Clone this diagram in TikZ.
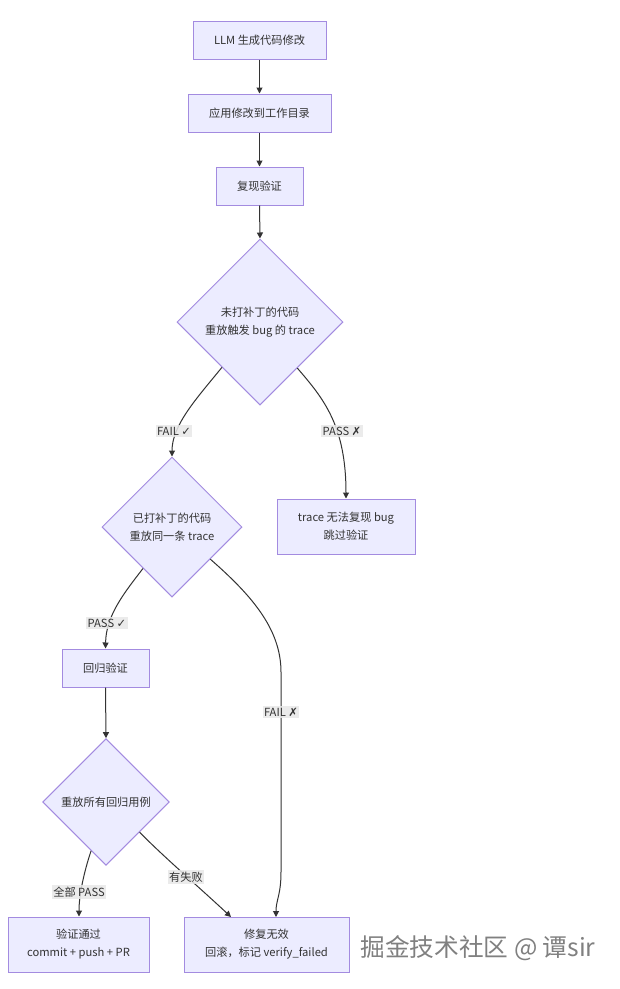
\documentclass[tikz,border=0pt]{standalone}
\usepackage{fontspec}
\setmainfont{Noto Sans CJK SC}
\newfontfamily\symf{DejaVu Sans}
\usetikzlibrary{shapes.geometric,arrows.meta}
\definecolor{nodefill}{HTML}{ECECFF}
\definecolor{nodeline}{HTML}{A38BE0}
\definecolor{edgecol}{HTML}{333333}
\definecolor{lblbg}{HTML}{E8E8E8}
\definecolor{txt}{HTML}{333333}
\definecolor{wmark}{HTML}{808080}
\newcommand{\ok}{{\symf\fontsize{8.6}{9}\selectfont ✓}}
\newcommand{\no}{{\symf\fontsize{8.6}{9}\selectfont ✗}}
\begin{document}
\begin{tikzpicture}[x=0.75pt,y=-0.75pt,
  nfont/.style={font=\fontsize{8.4}{13.5}\selectfont},
  box/.style={draw=nodeline, fill=nodefill, line width=0.75pt, rectangle, align=center, inner sep=0pt, text=txt, nfont},
  dia/.style={draw=nodeline, fill=nodefill, line width=0.75pt, diamond, aspect=1, align=center, inner sep=0pt, text=txt, nfont},
  conn/.style={draw=edgecol, line width=0.75pt, -{Triangle[length=4.5pt,width=4.5pt]}},
  lbl/.style={fill=lblbg, fill opacity=0.85, text opacity=1, text=txt, inner xsep=1pt, inner ysep=1.5pt, nfont}]
\useasboundingbox[fill=white] (0,0) rectangle (620,989);

% nodes
\node[box, minimum width=99.75pt, minimum height=28.5pt] (b1) at (259.5,40) {LLM 生成代码修改};
\node[box, minimum width=107.25pt, minimum height=28.5pt] (b2) at (259.5,113) {应用修改到工作目录};
\node[box, minimum width=65.25pt, minimum height=28.5pt] (b3) at (259.5,186) {复现验证};
\node[dia, minimum width=124.5pt, minimum height=124.5pt] (d1) at (260,322) {未打补丁的代码\\重放触发 bug 的 trace};
\node[dia, minimum width=105pt, minimum height=105pt] (d2) at (172,527) {已打补丁的代码\\重放同一条 trace};
\node[box, minimum width=103.5pt, minimum height=41.25pt] (tr) at (346,526.5) {trace 无法复现 bug\\跳过验证};
\node[box, minimum width=65.25pt, minimum height=28.5pt] (rg) at (105.5,668) {回归验证};
\node[dia, minimum width=95pt, minimum height=95pt] (d3) at (106,802) {重放所有回归用例};
\node[box, minimum width=105.75pt, minimum height=41.25pt] (ok) at (78.5,944.5) {验证通过\\commit + push + PR};
\node[box, minimum width=123.75pt, minimum height=41.25pt] (fl) at (266.5,944.5) {修复无效\\回滚，标记 verify\_failed};

% helper coordinates
\coordinate (f1) at (281,672);
\coordinate (f2) at (281,872);
\coordinate (fe) at (276,917);
\coordinate (ge) at (231,917);

% connectors
\draw[conn] (b1.south) -- (b2.north);
\draw[conn] (b2.south) -- (b3.north);
\draw[conn] (b3.south) -- (d1.north);
\draw[conn] (d1.-130) .. controls (197,398) and (172,425) .. (d2.north);
\draw[conn] (d1.-51) .. controls (323,398) and (346,425) .. (tr.north);
\draw[conn] (d2.-125) .. controls (125,592) and (106,615) .. (rg.north);
\draw[conn] (d2.-40) .. controls (250,594) and (281,628) .. (f1) -- (f2) .. controls (281,895) and (276,900) .. (fe);
\draw[conn] (rg.south) -- (d3.north);
\draw[conn] (d3.-107) .. controls (84,872) and (79,895) .. (ok.north -| 79,0);
\draw[conn] (d3.-42) .. controls (165,858) and (200,888) .. (ge);

% edge labels
\node[lbl] (l1) at (174,431) {FAIL \ok};
\node[lbl] (l2) at (342,431) {PASS \no};
\node[lbl] (l3) at (107,623) {PASS \ok};
\node[lbl] (l4) at (281,712) {FAIL \no};
\node[lbl] (l5) at (79,892) {全部 PASS};
\node[lbl] (l6) at (186,877) {有失败};

% watermark
\node[text=wmark, font=\fontsize{18.5}{22}\selectfont, inner sep=0pt] (wm) at (478,948) {掘金技术社区 @ 谭sir};
\end{tikzpicture}
\end{document}
